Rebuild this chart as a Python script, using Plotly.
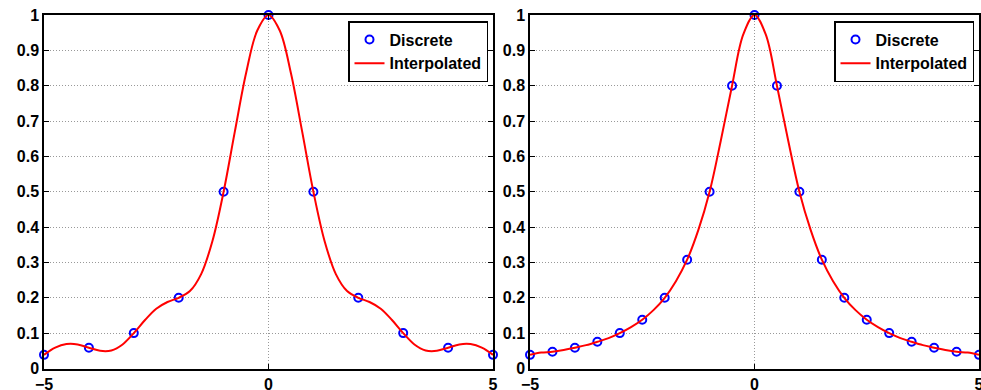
import plotly.graph_objects as go
from plotly.subplots import make_subplots

# ---- data ----
left_x_discrete = [-5, -4, -3, -2, -1, 0, 1, 2, 3, 4, 5]
left_y_discrete = [0.0385, 0.0588, 0.1, 0.2, 0.5, 1.0, 0.5, 0.2, 0.1, 0.0588, 0.0385]

left_x_curve = [-5, -4.75, -4.5, -4.25, -4, -3.75, -3.5, -3.25, -3, -2.75, -2.5, -2.25, -2,
                -1.75, -1.5, -1.25, -1, -0.75, -0.5, -0.25, 0, 0.25, 0.5, 0.75, 1, 1.25,
                1.5, 1.75, 2, 2.25, 2.5, 2.75, 3, 3.25, 3.5, 3.75, 4, 4.25, 4.5, 4.75, 5]
left_y_curve = [0.0385, 0.059, 0.069, 0.068, 0.0588, 0.050, 0.051, 0.068, 0.1, 0.137, 0.169,
                0.188, 0.2, 0.219, 0.267, 0.36, 0.5, 0.67, 0.835, 0.956, 1.0, 0.956, 0.835,
                0.67, 0.5, 0.36, 0.267, 0.219, 0.2, 0.188, 0.169, 0.137, 0.1, 0.068, 0.051,
                0.050, 0.0588, 0.068, 0.069, 0.059, 0.0385]

right_x_discrete = [-5, -4.5, -4, -3.5, -3, -2.5, -2, -1.5, -1, -0.5, 0,
                    0.5, 1, 1.5, 2, 2.5, 3, 3.5, 4, 4.5, 5]
right_y_discrete = [0.0385, 0.0471, 0.0588, 0.0755, 0.1, 0.1379, 0.2, 0.3077, 0.5, 0.8, 1.0,
                    0.8, 0.5, 0.3077, 0.2, 0.1379, 0.1, 0.0755, 0.0588, 0.0471, 0.0385]

right_x_curve = left_x_curve
right_y_curve = [0.0385, 0.045, 0.0471, 0.052, 0.0588, 0.066, 0.0755, 0.086, 0.1, 0.117,
                 0.1379, 0.165, 0.2, 0.247, 0.3077, 0.392, 0.5, 0.645, 0.8, 0.945, 1.0,
                 0.945, 0.8, 0.645, 0.5, 0.392, 0.3077, 0.247, 0.2, 0.165, 0.1379, 0.117,
                 0.1, 0.086, 0.0755, 0.066, 0.0588, 0.052, 0.0471, 0.045, 0.0385]

y_ticks = [0, 0.1, 0.2, 0.3, 0.4, 0.5, 0.6, 0.7, 0.8, 0.9, 1]
y_tick_labels = ["0", "0.1", "0.2", "0.3", "0.4", "0.5", "0.6", "0.7", "0.8", "0.9", "1"]
x_ticks = [-5, 0, 5]
x_tick_labels = ["\u22125", "0", "5"]

W, H = 981, 390
TICKFONT = dict(family="Liberation Sans, Arial, sans-serif", size=16, color="black", weight="bold")
LEGFONT = dict(family="Liberation Sans, Arial, sans-serif", size=16, color="black", weight="bold")

fig = make_subplots(rows=1, cols=2)

panels = [
    (left_x_discrete, left_y_discrete, left_x_curve, left_y_curve, 1, "legend"),
    (right_x_discrete, right_y_discrete, right_x_curve, right_y_curve, 2, "legend2"),
]
for xd, yd, xc, yc, col, leg in panels:
    fig.add_trace(go.Scatter(x=xd, y=yd, mode="markers", name="Discrete",
                             marker=dict(symbol="circle-open", size=8, color="blue",
                                         line=dict(width=2, color="blue")),
                             cliponaxis=False, legend=leg), row=1, col=col)
    fig.add_trace(go.Scatter(x=xc, y=yc, mode="lines", name="Interpolated",
                             line=dict(color="red", width=2, shape="spline", smoothing=1.0),
                             legend=leg), row=1, col=col)

axis_common = dict(showline=True, linecolor="black", linewidth=1.5, mirror="ticks",
                   ticks="inside", ticklen=5, tickcolor="black", tickwidth=1,
                   showgrid=True, gridcolor="#999999", griddash="1px,2px", gridwidth=1,
                   zeroline=False, tickfont=TICKFONT, automargin=False,
                   ticklabeloverflow="allow")

fig.update_xaxes(range=[-5, 5], tickvals=x_ticks, ticktext=x_tick_labels, **axis_common)
fig.update_yaxes(range=[-0.0015, 1], tickvals=y_ticks, ticktext=y_tick_labels, **axis_common)

fig.update_layout(
    xaxis=dict(domain=[44 / W, 493 / W]),
    xaxis2=dict(domain=[530 / W, 979 / W]),
    width=W, height=H,
    margin=dict(l=0, r=0, t=15, b=21),
    paper_bgcolor="white", plot_bgcolor="white",
    font=TICKFONT,
    legend=dict(x=488 / W, y=0.983, xanchor="right", yanchor="top",
                bgcolor="white", bordercolor="black", borderwidth=1.5,
                font=LEGFONT, tracegroupgap=0, itemwidth=30),
    legend2=dict(x=974 / W, y=0.983, xanchor="right", yanchor="top",
                 bgcolor="white", bordercolor="black", borderwidth=1.5,
                 font=LEGFONT, tracegroupgap=0, itemwidth=30),
)

fig.write_html("out.html", config={"displayModeBar": False},
               post_script="document.body.style.margin='0';document.body.style.overflow='hidden';")
